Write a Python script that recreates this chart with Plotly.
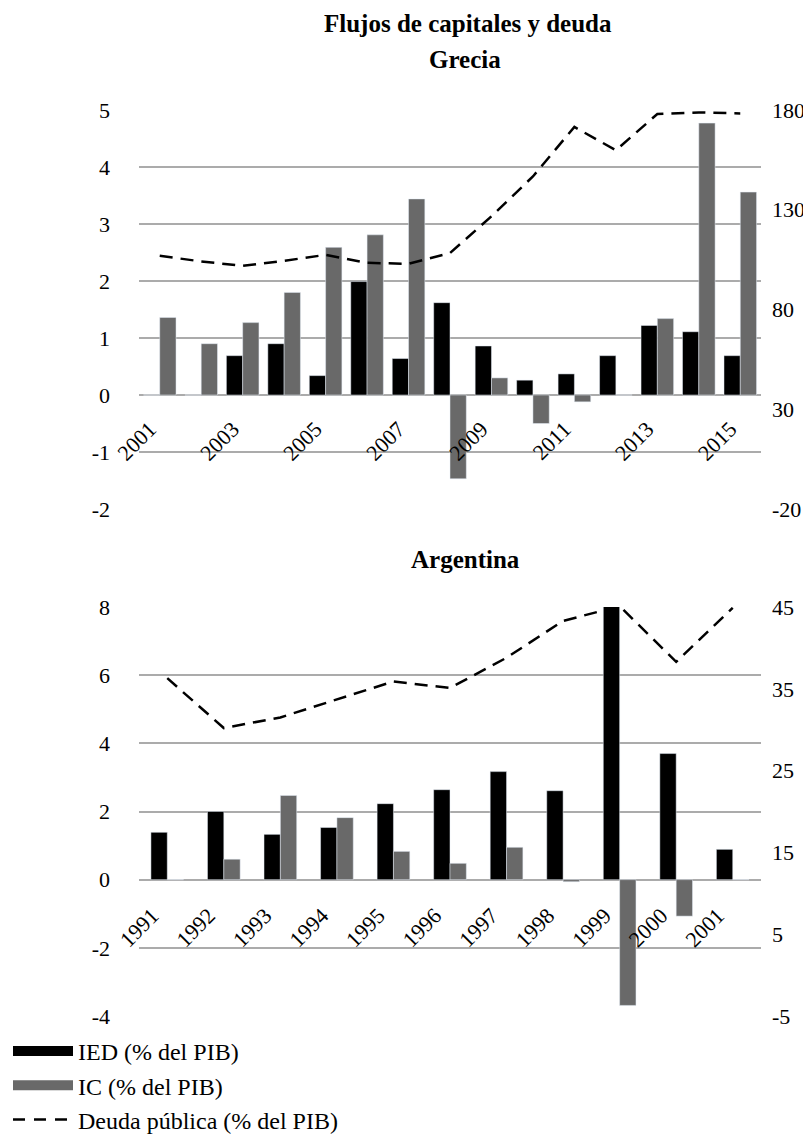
import plotly.graph_objects as go

# ---------------- data ----------------
grecia_years = [str(y) for y in range(2001, 2016)]
grecia_ied = [0, 0, 0.69, 0.90, 0.34, 1.99, 0.64, 1.62, 0.86, 0.26, 0.37, 0.69, 1.22, 1.11, 0.69]
grecia_ic = [1.36, 0.90, 1.27, 1.80, 2.59, 2.81, 3.44, -1.47, 0.30, -0.50, -0.12, 0, 1.34, 4.77, 3.56]
grecia_deuda = [106.9, 104.1, 101.9, 104.4, 107.4, 103.4, 102.9, 108.3, 126.7, 146.7, 171.5, 159.8, 178.0, 178.8, 178.3]
grecia_ticks = grecia_years[::2]

arg_years = [str(y) for y in range(1991, 2002)]
arg_ied = [1.39, 2.00, 1.33, 1.53, 2.23, 2.64, 3.17, 2.61, 8.10, 3.70, 0.89]
arg_ic = [0, 0.60, 2.47, 1.82, 0.83, 0.48, 0.95, -0.06, -3.69, -1.07, 0]
arg_deuda = [36.3, 30.2, 31.5, 33.7, 35.9, 35.1, 38.8, 43.3, 45.1, 38.3, 44.9]

left_ticks_top = [-2, -1, 0, 1, 2, 3, 4, 5]
left_labels_top = ["-2", "-1", "0", "1", "2", "3", "4", "5"]
right_ticks_top = [-20, 30, 80, 130, 180]
right_labels_top = ["-20", "30", "80", "130", "180"]
left_ticks_bot = [-4, -2, 0, 2, 4, 6, 8]
left_labels_bot = ["-4", "-2", "0", "2", "4", "6", "8"]
right_ticks_bot = [-5, 5, 15, 25, 35, 45]
right_labels_bot = ["-5", "5", "15", "25", "35", "45"]

names = ["IED (% del PIB)", "IC (% del PIB)", "Deuda pública (% del PIB)"]
title_text = "Flujos de capitales y deuda"
sub_top = "Grecia"
sub_bot = "Argentina"

# ---------------- style ----------------
FONT = "Liberation Serif"
BLACK = "#000000"
GRAY = "#696969"
GRID = "#ababab"
W, H = 811, 1135
ML, MR, MT, MB = 131, 58, 102, 127
PH = H - MT - MB
PW = W - ML - MR


def py(pix):
    return (H - MB - pix) / PH


def px(pix):
    return (pix - ML) / PW


w_top = 0.393
w_bot = 0.289
dash = "13px,8px"

fig = go.Figure()

# top: Grecia
fig.add_trace(go.Bar(x=grecia_years, y=grecia_ied, marker_color=BLACK, width=w_top, offset=-w_top,
                     xaxis="x", yaxis="y", showlegend=False, name=names[0]))
fig.add_trace(go.Bar(x=grecia_years, y=grecia_ic, marker_color=GRAY, width=w_top, offset=0,
                     xaxis="x", yaxis="y", showlegend=False, name=names[1]))
fig.add_trace(go.Scatter(x=grecia_years, y=grecia_deuda, mode="lines",
                         line=dict(color=BLACK, width=2.5, dash=dash),
                         xaxis="x", yaxis="y2", showlegend=False, name=names[2]))

# bottom: Argentina
fig.add_trace(go.Bar(x=arg_years, y=arg_ied, marker_color=BLACK, width=w_bot, offset=-w_bot,
                     xaxis="x2", yaxis="y3", showlegend=False, name=names[0]))
fig.add_trace(go.Bar(x=arg_years, y=arg_ic, marker_color=GRAY, width=w_bot, offset=0,
                     xaxis="x2", yaxis="y3", showlegend=False, name=names[1]))
fig.add_trace(go.Scatter(x=arg_years, y=arg_deuda, mode="lines",
                         line=dict(color=BLACK, width=2.5, dash=dash),
                         xaxis="x2", yaxis="y4", showlegend=False, name=names[2]))

# legend entries
fig.add_trace(go.Scatter(x=[None], y=[None], mode="lines", line=dict(color=BLACK, width=15),
                         name=names[0], xaxis="x", yaxis="y"))
fig.add_trace(go.Scatter(x=[None], y=[None], mode="lines", line=dict(color=GRAY, width=15),
                         name=names[1], xaxis="x", yaxis="y"))
fig.add_trace(go.Scatter(x=[None], y=[None], mode="lines", line=dict(color=BLACK, width=2.5, dash="12px,9px"),
                         name=names[2], xaxis="x", yaxis="y"))

top_dom = [py(501), 1.0]
bot_dom = [0.0, py(599)]

xcommon = dict(type="category", showgrid=False, showline=False, zeroline=False, ticks="",
               tickangle=-45, tickfont=dict(family=FONT, size=22, color=BLACK), anchor="free")
ycommon = dict(showline=False, ticks="", tickfont=dict(family=FONT, size=22, color=BLACK),
               tickmode="array")

fig.update_layout(
    width=W, height=H,
    margin=dict(l=ML, r=MR, t=MT, b=MB, autoexpand=False),
    paper_bgcolor="white", plot_bgcolor="white",
    barmode="overlay",
    font=dict(family=FONT, color=BLACK),
    xaxis=dict(**xcommon, domain=[0, 1], position=py(385),
               categoryorder="array", categoryarray=grecia_years,
               tickmode="array", tickvals=grecia_ticks, ticktext=grecia_ticks,
               ticklabelstandoff=18, ticklabelshift=-10, range=[-0.5, len(grecia_years) - 0.5]),
    yaxis=dict(**ycommon, domain=top_dom, anchor="x", range=[-2, 5],
               tickvals=left_ticks_top, ticktext=left_labels_top,
               showgrid=True, gridcolor=GRID, gridwidth=2, zeroline=True, zerolinecolor=GRID,
               zerolinewidth=2, ticklabelstandoff=28),
    yaxis2=dict(**ycommon, domain=top_dom, anchor="x", overlaying="y", side="right",
                range=[-20, 180], tickvals=right_ticks_top, ticktext=right_labels_top,
                showgrid=False, zeroline=False, ticklabelstandoff=10),
    xaxis2=dict(**xcommon, domain=[0, 1], position=py(871.5),
                categoryorder="array", categoryarray=arg_years,
                tickmode="array", tickvals=arg_years, ticktext=arg_years,
                ticklabelstandoff=18, ticklabelshift=-15, range=[-0.5, len(arg_years) - 0.5]),
    yaxis3=dict(**ycommon, domain=bot_dom, anchor="x2", range=[-4, 8],
                tickvals=left_ticks_bot, ticktext=left_labels_bot,
                showgrid=True, gridcolor=GRID, gridwidth=2, zeroline=True, zerolinecolor=GRID,
                zerolinewidth=2, ticklabelstandoff=28),
    yaxis4=dict(**ycommon, domain=bot_dom, anchor="x2", overlaying="y3", side="right",
                range=[-5, 45], tickvals=right_ticks_bot, ticktext=right_labels_bot,
                showgrid=False, zeroline=False, ticklabelstandoff=10),
    legend=dict(xref="container", yref="container", x=0.0, y=(H - 1021) / H,
                xanchor="left", yanchor="top", itemwidth=60,
                font=dict(family=FONT, size=24, color=BLACK), bgcolor="rgba(0,0,0,0)",
                tracegroupgap=0),
    annotations=[
        dict(text="<b>%s</b>" % title_text, x=px(460), y=py(15), xref="paper", yref="paper",
             showarrow=False, xanchor="center", yanchor="middle",
             font=dict(family=FONT, size=25, color=BLACK)),
        dict(text="<b>%s</b>" % sub_top, x=px(457), y=py(52), xref="paper", yref="paper",
             showarrow=False, xanchor="center", yanchor="middle",
             font=dict(family=FONT, size=25, color=BLACK)),
        dict(text="<b>%s</b>" % sub_bot, x=px(457), y=py(551.5), xref="paper", yref="paper",
             showarrow=False, xanchor="center", yanchor="middle",
             font=dict(family=FONT, size=25, color=BLACK)),
    ],
)

fig.write_html("out.html")
